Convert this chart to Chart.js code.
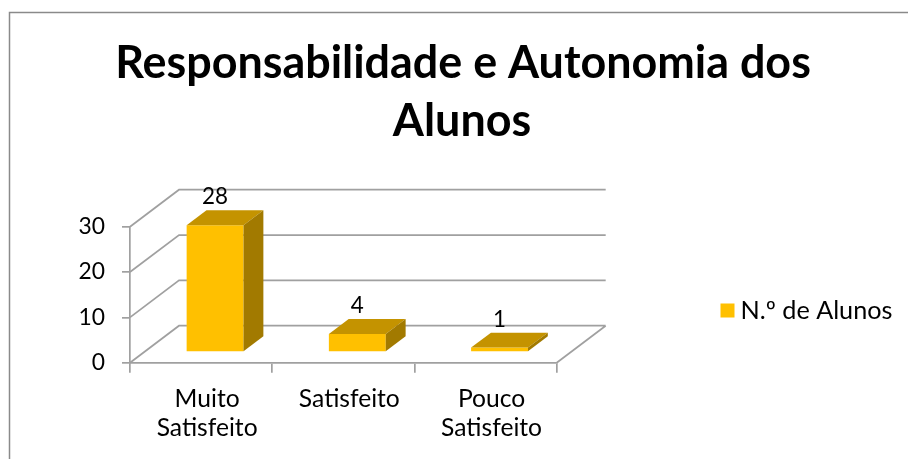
<!DOCTYPE html>
<html>
<head>
<meta charset="utf-8">
<script src="https://cdn.jsdelivr.net/npm/chart.js@4.4.1/dist/chart.umd.min.js"></script>
<style>
html,body{margin:0;padding:0;background:#fff;}
#wrap{width:908px;height:459px;position:relative;}
</style>
</head>
<body>
<div id="wrap"><canvas id="c" width="908" height="459"></canvas></div>
<script>
// ---- data ----
const titleLines = ['Responsabilidade e Autonomia dos', 'Alunos'];
const categories = [['Muito', 'Satisfeito'], 'Satisfeito', ['Pouco', 'Satisfeito']];
const seriesName = 'N.º de Alunos';
const values = [28, 4, 1];
const yTicks = [0, 10, 20, 30];

// ---- style ----
const FAM = 'Lato, "Open Sans", sans-serif';
const GOLD = '#FFC000';
const GOLD_TOP = '#C49300';
const GOLD_SIDE = '#A27A00';
const GRID = '#a0a0a0';
const DX = 49, DY = -37;      // depth of the 3D floor
const F0 = 0.285, F1 = 0.69;  // bar depth fraction (front / back)

function fit(text, weight, target) {
  const c = document.createElement('canvas').getContext('2d');
  c.font = weight + ' 100px ' + FAM;
  return 100 * target / c.measureText(text).width;
}
const titleSize = fit(titleLines[0], 'bold', 696);
const xTickSize = fit('Satisfeito', 'normal', 101);
const yTickSize = fit('30', 'normal', 26.5);
const dataSize = fit('28', 'normal', 26);
const legendSize = fit(seriesName, 'normal', 152);

const threeD = {
  id: 'threeD',
  beforeDraw(chart) {
    const ctx = chart.ctx;
    ctx.save();
    ctx.fillStyle = '#fff';
    ctx.fillRect(0, 0, chart.width, chart.height);
    ctx.strokeStyle = '#8a8a8a';
    ctx.lineWidth = 1.5;
    ctx.beginPath();
    ctx.moveTo(9.5, chart.height);
    ctx.lineTo(9.5, 12.5);
    ctx.lineTo(chart.width, 12.5);
    ctx.stroke();
    ctx.restore();
  },
  beforeDatasetsDraw(chart) {
    const ctx = chart.ctx;
    const a = chart.chartArea;
    const ys = chart.scales.y;
    ctx.save();
    ctx.strokeStyle = GRID;
    ctx.lineWidth = 1.7;
    ctx.beginPath();
    yTicks.forEach(v => {
      const y = ys.getPixelForValue(v);
      ctx.moveTo(a.left, y);
      ctx.lineTo(a.left + DX, y + DY);
      ctx.lineTo(a.right + DX, y + DY);
    });
    const y0 = ys.getPixelForValue(0);
    ctx.moveTo(a.right, y0);
    ctx.lineTo(a.right + DX, y0 + DY);
    ctx.stroke();
    ctx.restore();
    ctx.save();
    ctx.translate(F0 * DX, F0 * DY);
  },
  afterDatasetsDraw(chart) {
    const ctx = chart.ctx;
    const sdx = (F1 - F0) * DX, sdy = (F1 - F0) * DY;
    const meta = chart.getDatasetMeta(0);
    meta.data.forEach((bar, i) => {
      const p = bar.getProps(['x', 'y', 'base', 'width'], true);
      const l = p.x - p.width / 2, r = p.x + p.width / 2;
      // top face
      ctx.fillStyle = GOLD_TOP;
      ctx.beginPath();
      ctx.moveTo(l, p.y); ctx.lineTo(r, p.y);
      ctx.lineTo(r + sdx, p.y + sdy); ctx.lineTo(l + sdx, p.y + sdy);
      ctx.closePath(); ctx.fill();
      // side face
      ctx.fillStyle = GOLD_SIDE;
      ctx.beginPath();
      ctx.moveTo(r, p.y); ctx.lineTo(r + sdx, p.y + sdy);
      ctx.lineTo(r + sdx, p.base + sdy); ctx.lineTo(r, p.base);
      ctx.closePath(); ctx.fill();
      // data label
      ctx.fillStyle = '#000';
      ctx.font = dataSize + 'px ' + FAM;
      ctx.textAlign = 'center';
      ctx.textBaseline = 'middle';
      ctx.fillText(String(values[i]), p.x, p.y + sdy - 13);
    });
    ctx.restore();
  },
  afterDraw(chart) {
    const ctx = chart.ctx;
    ctx.save();
    // title
    ctx.fillStyle = '#000';
    ctx.font = 'bold ' + titleSize + 'px ' + FAM;
    ctx.textAlign = 'center';
    ctx.textBaseline = 'alphabetic';
    ctx.fillText(titleLines[0], 463, 78);
    ctx.fillText(titleLines[1], 462, 136);
    // legend
    ctx.fillStyle = GOLD;
    ctx.fillRect(720.5, 303.5, 14, 14);
    ctx.fillStyle = '#000';
    ctx.font = legendSize + 'px ' + FAM;
    ctx.textAlign = 'left';
    ctx.textBaseline = 'middle';
    ctx.fillText(seriesName, 740.5, 311);
    ctx.restore();
  }
};

new Chart(document.getElementById('c'), {
  type: 'bar',
  data: {
    labels: categories,
    datasets: [{
      label: seriesName,
      data: values,
      backgroundColor: GOLD,
      borderWidth: 0,
      barPercentage: 0.4,
      categoryPercentage: 1.0
    }]
  },
  options: {
    responsive: false,
    animation: false,
    devicePixelRatio: 1,
    layout: { padding: { top: 226.7, right: 351.3, left: 0, bottom: 0 } },
    plugins: { legend: { display: false }, title: { display: false }, tooltip: { enabled: false } },
    scales: {
      x: {
        offset: true,
        grid: { offset: true, drawOnChartArea: false, drawTicks: true, tickLength: 10, color: GRID, lineWidth: 1.7 },
        border: { display: true, color: GRID, width: 1.7 },
        ticks: { color: '#000', font: { family: FAM, size: xTickSize, lineHeight: 29 / xTickSize }, padding: 12, labelOffset: 6, maxRotation: 0, autoSkip: false },
        afterFit(s) { s.height = 459 - 362.7; }
      },
      y: {
        min: 0, max: 30,
        afterBuildTicks(s) { s.ticks = yTicks.map(v => ({ value: v })); },
        grid: { drawOnChartArea: false, drawTicks: true, tickLength: 8, color: GRID, lineWidth: 1.7 },
        border: { display: true, color: GRID, width: 1.7 },
        ticks: { color: '#000', font: { family: FAM, size: yTickSize }, padding: 17 },
        afterFit(s) { s.width = 130; }
      }
    }
  },
  plugins: [threeD]
});
</script>
</body>
</html>
